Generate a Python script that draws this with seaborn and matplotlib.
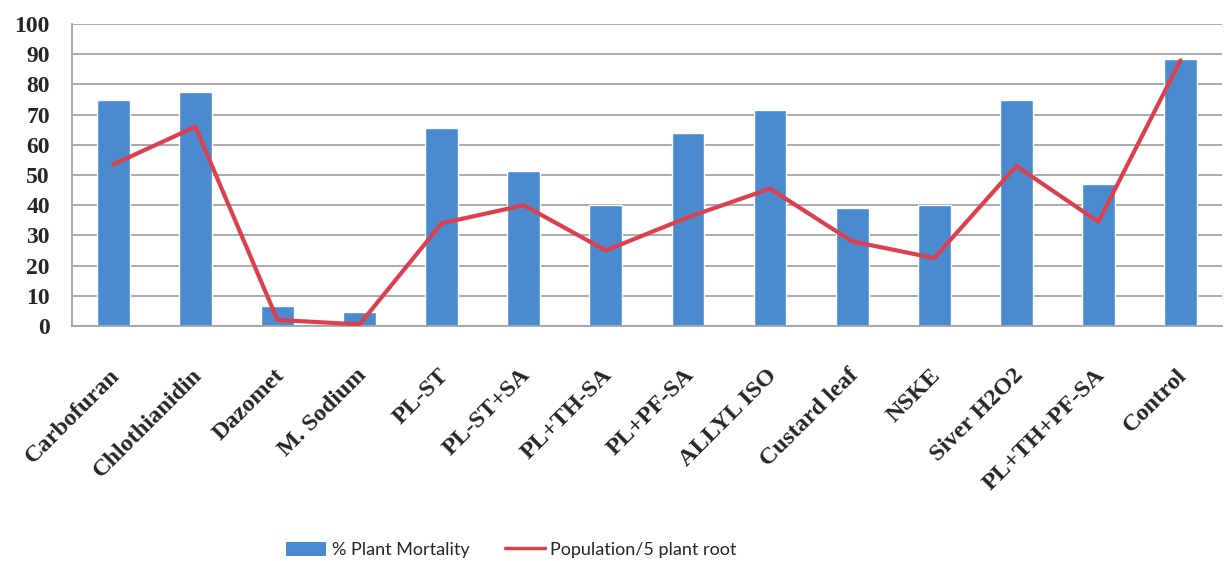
import numpy as np
import pandas as pd
import seaborn as sns
import matplotlib.pyplot as plt
import matplotlib.transforms as mtransforms
from matplotlib.patches import Patch
from matplotlib.lines import Line2D

# Dados do gráfico
tratamentos = ['Carbofuran', 'Chlothianidin', 'Dazomet', 'M. Sodium', 'PL-ST',
               'PL-ST+SA', 'PL+TH-SA', 'PL+PF-SA', 'ALLYL ISO', 'Custard leaf',
               'NSKE', 'Siver H2O2', 'PL+TH+PF-SA', 'Control']
mortalidade = [75, 77.5, 6.5, 4.5, 65.5, 51.5, 40, 64, 71.5, 39, 40, 75, 47, 88.5]
populacao = [53.5, 66, 2, 0.5, 34, 40, 25, 36, 45.5, 28, 22.5, 53, 34.5, 88]

cor_barra = '#4A8BCF'
cor_linha = '#DC3F4E'


def main():
    sns.set_style('white')
    df = pd.DataFrame({'pos': np.arange(len(tratamentos)),
                       'Tratamento': tratamentos,
                       'Mortalidade': mortalidade,
                       'Populacao': populacao})

    fig = plt.figure(figsize=(12.24, 5.61), dpi=100)
    ax = fig.add_axes([0.059, 0.419, 0.939, 0.538])

    sns.barplot(data=df, x='pos', y='Mortalidade', color=cor_barra,
                width=0.4, saturation=1, ax=ax, zorder=2)
    sns.lineplot(data=df, x='pos', y='Populacao', color=cor_linha,
                 linewidth=3, ax=ax, zorder=3)

    ax.set_xlim(-0.5, len(tratamentos) - 0.5)
    ax.set_ylim(0, 100)
    ax.set_yticks(range(0, 101, 10))
    ax.yaxis.grid(True, color='#A4A4A4', linewidth=1.3, zorder=0)
    ax.set_axisbelow(True)
    ax.set_xlabel('')
    ax.set_ylabel('')

    # rótulos do eixo x
    ax.set_xticks(np.arange(len(tratamentos)))
    ax.set_xticklabels(tratamentos, rotation=45, ha='right',
                       rotation_mode='anchor', fontfamily='Liberation Serif',
                       fontweight='bold', fontsize=17.5)
    ax.tick_params(axis='x', length=0, pad=28)
    desloc = mtransforms.ScaledTranslation(-4 / 100, 0, fig.dpi_scale_trans)
    for lbl in ax.get_xticklabels():
        lbl.set_transform(lbl.get_transform() + desloc)
    for lbl in ax.get_yticklabels():
        lbl.set_fontfamily('Liberation Serif')
        lbl.set_fontweight('bold')
        lbl.set_fontsize(17)
    ax.tick_params(axis='y', length=6, color='#A4A4A4', pad=10)

    # marcas entre categorias
    ax.set_xticks(np.arange(len(tratamentos) + 1) - 0.5, minor=True)
    ax.tick_params(axis='x', which='minor', length=6, color='#A4A4A4')

    for lado in ['top', 'right']:
        ax.spines[lado].set_visible(False)
    ax.spines['left'].set_color('#A4A4A4')
    ax.spines['bottom'].set_color('#A4A4A4')
    ax.spines['left'].set_linewidth(1.3)
    ax.spines['bottom'].set_linewidth(1.3)

    handles = [Patch(facecolor=cor_barra, edgecolor='none'),
               Line2D([0], [0], color=cor_linha, linewidth=2.5)]
    fig.legend(handles, ['% Plant Mortality', 'Population/5 plant root'],
               loc='center', bbox_to_anchor=(0.418, 0.02), ncol=2, frameon=False,
               prop={'family': 'Lato', 'size': 13}, handlelength=2.2,
               handletextpad=0.3, columnspacing=2.0, handleheight=0.8)

    fig.savefig('out.png', dpi=100)


if __name__ == "__main__":
    main()
